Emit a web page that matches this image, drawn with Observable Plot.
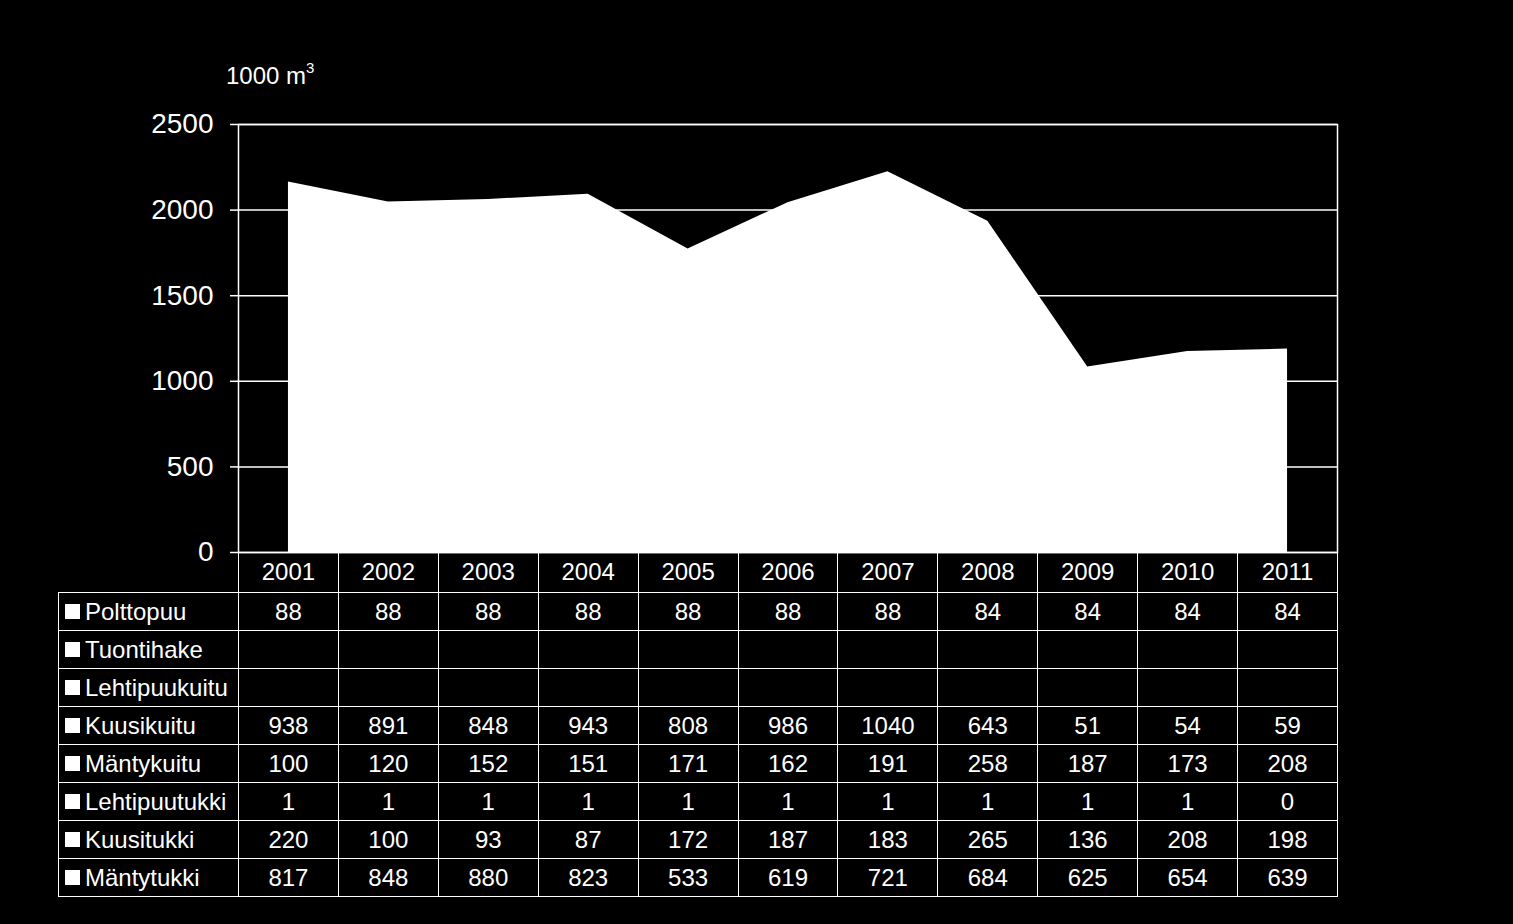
<!DOCTYPE html>
<html>
<head>
<meta charset="utf-8">
<script src="https://cdn.jsdelivr.net/npm/d3@7"></script>
<script src="https://cdn.jsdelivr.net/npm/@observablehq/plot@0.6"></script>
<style>
  html, body { margin: 0; padding: 0; background: #000; }
  body { width: 1513px; height: 924px; position: relative; overflow: hidden; font-family: "Liberation Sans", Arial, sans-serif; color: #fff; }
  #chart { position: absolute; left: 0; top: 0; }
  #unit { position: absolute; left: 226px; top: 64px; font-size: 24px; line-height: 24px; white-space: nowrap; z-index: 2; }
  #unit sup { font-size: 15px; line-height: 15px; position: relative; top: -4px; vertical-align: top; }
  #tbl { position: absolute; left: 58px; top: 552px; border-collapse: collapse; font-size: 24px; table-layout: fixed; z-index: 2; }
  #tbl td { border: 1px solid #fff; padding: 0; text-align: center; height: 37px; line-height: 37px; white-space: nowrap; overflow: hidden; }
  #tbl tr.head td { height: 40px; line-height: 40px; border-top: none; }
  #tbl tr.head td.corner { border: none; }
  #tbl td.lab { text-align: left; padding-left: 6px; }
  #tbl td.lab span.sq { display: inline-block; width: 15px; height: 15px; background: #fff; margin-right: 5px; vertical-align: middle; position: relative; top: -2px; }
</style>
</head>
<body>
<div id="chart"></div>
<div id="unit">1000 m<sup>3</sup></div>
<table id="tbl"></table>
<script>
const years = ["2001","2002","2003","2004","2005","2006","2007","2008","2009","2010","2011"];
const seriesNames = ["Polttopuu","Tuontihake","Lehtipuukuitu","Kuusikuitu","Mäntykuitu","Lehtipuutukki","Kuusitukki","Mäntytukki"];
const polttopuu     = [88, 88, 88, 88, 88, 88, 88, 84, 84, 84, 84];
const tuontihake    = [null, null, null, null, null, null, null, null, null, null, null];
const lehtipuukuitu = [null, null, null, null, null, null, null, null, null, null, null];
const kuusikuitu    = [938, 891, 848, 943, 808, 986, 1040, 643, 51, 54, 59];
const mantykuitu    = [100, 120, 152, 151, 171, 162, 191, 258, 187, 173, 208];
const lehtipuutukki = [1, 1, 1, 1, 1, 1, 1, 1, 1, 1, 0];
const kuusitukki    = [220, 100, 93, 87, 172, 187, 183, 265, 136, 208, 198];
const mantytukki    = [817, 848, 880, 823, 533, 619, 721, 684, 625, 654, 639];
const yTicks = [0, 500, 1000, 1500, 2000, 2500];

const seriesValues = [polttopuu, tuontihake, lehtipuukuitu, kuusikuitu, mantykuitu, lehtipuutukki, kuusitukki, mantytukki];

// long data (all series stack to one white area)
const data = [];
for (let s = seriesNames.length - 1; s >= 0; s--) {
  years.forEach((yr, i) => {
    const v = seriesValues[s][i];
    if (v != null) data.push({year: yr, series: seriesNames[s], value: v});
  });
}

const plot = Plot.plot({
  width: 1513,
  height: 590,
  marginLeft: 238,
  marginRight: 176,
  marginTop: 124,
  marginBottom: 38,
  style: {background: "#000", color: "#fff", fontFamily: "'Liberation Sans', Arial, sans-serif"},
  x: {type: "point", domain: years, padding: 0.5, round: false, axis: null},
  y: {domain: [0, 2500], axis: null},
  marks: [
    Plot.ruleY(yTicks, {stroke: "#fff", strokeWidth: 1.5}),
    Plot.areaY(data, Plot.groupX({y: "sum"}, {x: "year", y: "value", fill: "#fff"})),
    Plot.frame({stroke: "#fff", strokeWidth: 1.5}),
    Plot.axisY(yTicks, {label: null, tickSize: 8, tickPadding: 17, fontSize: 28, stroke: "#fff", strokeWidth: 1.5, fill: "#fff", tickFormat: d => String(d)})
  ]
});
document.getElementById("chart").appendChild(plot);

// data table below the chart
const tbl = document.getElementById("tbl");
const colgroup = document.createElement("colgroup");
const c0 = document.createElement("col"); c0.style.width = "180px"; colgroup.appendChild(c0);
years.forEach(() => { const c = document.createElement("col"); c.style.width = (1099 / years.length) + "px"; colgroup.appendChild(c); });
tbl.appendChild(colgroup);
const head = document.createElement("tr"); head.className = "head";
const corner = document.createElement("td"); corner.className = "corner"; head.appendChild(corner);
years.forEach(y => { const td = document.createElement("td"); td.textContent = y; head.appendChild(td); });
tbl.appendChild(head);
seriesNames.forEach((name, s) => {
  const tr = document.createElement("tr");
  const lab = document.createElement("td"); lab.className = "lab";
  const sq = document.createElement("span"); sq.className = "sq";
  lab.appendChild(sq); lab.appendChild(document.createTextNode(name));
  tr.appendChild(lab);
  seriesValues[s].forEach(v => { const td = document.createElement("td"); td.textContent = v == null ? "" : String(v); tr.appendChild(td); });
  tbl.appendChild(tr);
});
</script>
</body>
</html>
